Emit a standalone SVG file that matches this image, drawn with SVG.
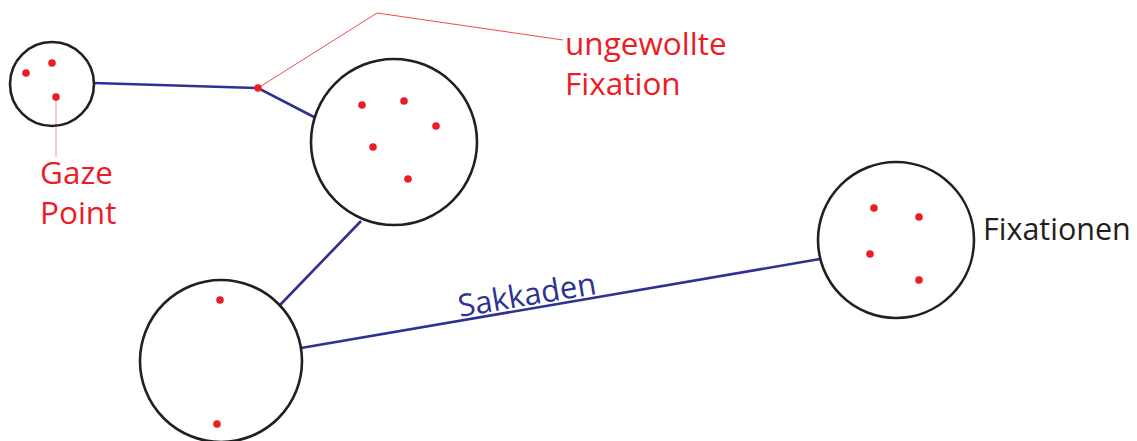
<svg xmlns="http://www.w3.org/2000/svg" width="1137" height="441" viewBox="0 0 1137 441">
<style>
.node{fill:none;stroke:#231f20;stroke-width:2.6}
.dot{fill:#ed1c24}
.sak{stroke:#2e3192;stroke-width:2.6;fill:none}
.lead{stroke:#ed1c24;stroke-width:0.8;fill:none}
.lbl{font-family:"Open Sans","Noto Sans",sans-serif;font-size:31.5px}
.red{fill:#ed1c24}
</style>
<rect width="1137" height="441" fill="#fff"/>
<g id="connectors">
<polyline class="sak" points="94,83 258,88 314,117"/>
<line class="sak" x1="361" y1="221" x2="280" y2="305"/>
<line class="sak" x1="301" y1="348" x2="820" y2="259"/>
<polyline class="lead" points="258,88 377,13 563,40"/>
<line x1="56" y1="97" x2="56" y2="157" stroke="#f7a8a8" stroke-width="1.2"/>
<circle class="dot" cx="258" cy="88" r="3.8"/>
<text class="lbl" x="460" y="317" fill="#2e3192" style="font-size:31px" transform="rotate(-9.6 460 317)">Sakkaden</text>
</g>
<g id="n1">
<circle class="node" cx="52" cy="84" r="42"/>
<circle class="dot" cx="26" cy="73" r="3.8"/>
<circle class="dot" cx="52" cy="63" r="3.8"/>
<circle class="dot" cx="56" cy="97" r="3.8"/>
</g>
<g id="n2">
<circle class="node" cx="394" cy="142" r="83"/>
<circle class="dot" cx="362" cy="105" r="3.8"/>
<circle class="dot" cx="404" cy="101" r="3.8"/>
<circle class="dot" cx="436" cy="126" r="3.8"/>
<circle class="dot" cx="373" cy="147" r="3.8"/>
<circle class="dot" cx="408" cy="179" r="3.8"/>
</g>
<g id="n3">
<circle class="node" cx="221" cy="361" r="81"/>
<circle class="dot" cx="220" cy="300" r="3.8"/>
<circle class="dot" cx="217" cy="424" r="3.8"/>
</g>
<g id="n4">
<circle class="node" cx="896" cy="240" r="78"/>
<circle class="dot" cx="874" cy="208" r="3.8"/>
<circle class="dot" cx="919" cy="217" r="3.8"/>
<circle class="dot" cx="870" cy="254" r="3.8"/>
<circle class="dot" cx="919" cy="280" r="3.8"/>
</g>
<g id="labels">
<text class="lbl red" x="40" y="184">Gaze</text>
<text class="lbl red" x="40" y="224">Point</text>
<text class="lbl red" x="565" y="55">ungewollte</text>
<text class="lbl red" x="565" y="95">Fixation</text>
<text class="lbl" x="983" y="240" fill="#231f20" style="font-size:30.5px">Fixationen</text>
</g>
</svg>
